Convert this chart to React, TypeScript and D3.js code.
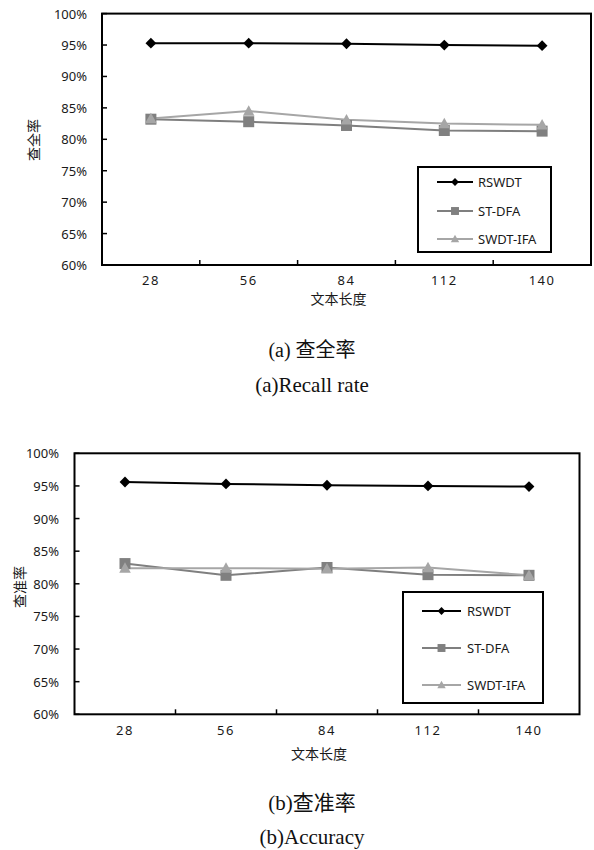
import React from "react";
import * as d3 from "d3";

const categories = ["28", "56", "84", "112", "140"];
const yTicks = [60, 65, 70, 75, 80, 85, 90, 95, 100];
const seriesNames = ["RSWDT", "ST-DFA", "SWDT-IFA"];

const recallRSWDT = [95.3, 95.3, 95.2, 95.0, 94.9];
const recallSTDFA = [83.2, 82.8, 82.2, 81.4, 81.3];
const recallSWDTIFA = [83.3, 84.5, 83.1, 82.5, 82.3];

const accRSWDT = [95.6, 95.3, 95.1, 95.0, 94.9];
const accSTDFA = [83.1, 81.3, 82.5, 81.4, 81.3];
const accSWDTIFA = [82.4, 82.4, 82.3, 82.5, 81.3];

const styles = [
  { stroke: "#000000", fill: "#000000", marker: "diamond" },
  { stroke: "#7f7f7f", fill: "#808080", marker: "square" },
  { stroke: "#a6a6a6", fill: "#a6a6a6", marker: "triangle" },
];

const sans = "'Noto Sans', 'Open Sans', sans-serif";
const cjk = "'Noto Sans CJK SC', sans-serif";
const serif = "'Liberation Serif', 'Noto Sans CJK SC', serif";

function Marker({ type, x, y, fill, k = 1 }: { type: string; x: number; y: number; fill: string; k?: number }) {
  if (type === "diamond") {
    const s = 5.4 * k;
    return <path d={`M${x},${y - s}L${x + s},${y}L${x},${y + s}L${x - s},${y}Z`} fill={fill} />;
  }
  if (type === "square") {
    const s = 5.5 * k;
    return <rect x={x - s} y={y - s} width={2 * s} height={2 * s} fill={fill} />;
  }
  const s = 5.8 * k;
  return <path d={`M${x},${y - s}L${x + s},${y + s * 0.8}L${x - s},${y + s * 0.8}Z`} fill={fill} />;
}

type ChartProps = {
  series: number[][];
  left: number;
  right: number;
  top: number;
  bottom: number;
  yLabelX: number;
  yTitle: string;
  yTitleX: number;
  yTitleY: number;
  xLabelY: number;
  xTitleY: number;
  legend: { x: number; y: number; w: number; h: number; rows: number[]; l1: number; l2: number; tx: number };
};

function Chart(p: ChartProps) {
  const x = d3.scaleBand<string>().domain(categories).range([p.left, p.right]).paddingInner(0).paddingOuter(0);
  const y = d3.scaleLinear().domain([60, 100]).range([p.bottom, p.top]);
  const cx = (c: string) => (x(c) as number) + x.bandwidth() / 2;
  const line = d3
    .line<number>()
    .x((_, i) => cx(categories[i]))
    .y((d) => y(d));
  const lg = p.legend;
  return (
    <g>
      {yTicks.map((t) => (
        <g key={t}>
          <line x1={p.left} x2={p.left + 5} y1={y(t)} y2={y(t)} stroke="#000" strokeWidth={1.5} />
          <text x={p.yLabelX} y={y(t)} textAnchor="end" dominantBaseline="central" fontFamily={sans} fontSize={13} fill="#1a1a1a">
            {t}%
          </text>
        </g>
      ))}
      {categories.slice(1).map((c) => (
        <line key={c} x1={x(c) as number} x2={x(c) as number} y1={p.bottom} y2={p.bottom - 5} stroke="#000" strokeWidth={1.5} />
      ))}
      {categories.map((c) => (
        <text key={c} x={cx(c)} y={p.xLabelY} textAnchor="middle" dominantBaseline="central" fontFamily={sans} fontSize={13} letterSpacing={1.5} fill="#1a1a1a">
          {c}
        </text>
      ))}
      <rect x={p.left} y={p.top} width={p.right - p.left} height={p.bottom - p.top} fill="none" stroke="#000" strokeWidth={2} />
      {p.series.map((s, i) => (
        <path key={"l" + i} d={line(s) || ""} fill="none" stroke={styles[i].stroke} strokeWidth={2} />
      ))}
      {p.series.map((s, i) =>
        s.map((v, j) => <Marker key={"m" + i + "-" + j} type={styles[i].marker} x={cx(categories[j])} y={y(v)} fill={styles[i].fill} />)
      )}
      <text x={(p.left + p.right) / 2 - 8} y={p.xTitleY} textAnchor="middle" dominantBaseline="central" fontFamily={cjk} fontSize={14} fill="#1a1a1a">
        文本长度
      </text>
      <text
        transform={`translate(${p.yTitleX},${p.yTitleY}) rotate(-90)`}
        textAnchor="middle"
        dominantBaseline="central"
        fontFamily={cjk}
        fontSize={14}
        fill="#1a1a1a"
      >
        {p.yTitle}
      </text>
      <rect x={lg.x} y={lg.y} width={lg.w} height={lg.h} fill="#fff" stroke="#000" strokeWidth={2} />
      {seriesNames.map((n, i) => {
        const ry = lg.y + lg.rows[i];
        return (
          <g key={n}>
            <line x1={lg.x + lg.l1} x2={lg.x + lg.l2} y1={ry} y2={ry} stroke={styles[i].stroke} strokeWidth={2} />
            <Marker type={styles[i].marker} x={lg.x + (lg.l1 + lg.l2) / 2} y={ry} fill={styles[i].fill} k={0.72} />
            <text x={lg.x + lg.tx} y={ry} dominantBaseline="central" fontFamily={sans} fontSize={13} fill="#1a1a1a">
              {n}
            </text>
          </g>
        );
      })}
    </g>
  );
}

export default function App() {
  return (
    <svg width={594} height={850} style={{ position: "absolute", left: 0, top: 0, background: "#fff" }}>
      <rect x={0} y={0} width={594} height={850} fill="#fff" />
      <Chart
        series={[recallRSWDT, recallSTDFA, recallSWDTIFA]}
        left={102}
        right={591}
        top={13.6}
        bottom={265}
        yLabelX={87}
        yTitle="查全率"
        yTitleX={33}
        yTitleY={140}
        xLabelY={280}
        xTitleY={298}
        legend={{ x: 418, y: 167, w: 133, h: 85, rows: [15, 44, 72], l1: 19, l2: 55, tx: 60 }}
      />
      <Chart
        series={[accRSWDT, accSTDFA, accSWDTIFA]}
        left={74.5}
        right={579.5}
        top={453.3}
        bottom={714.3}
        yLabelX={59}
        yTitle="查准率"
        yTitleX={19}
        yTitleY={587}
        xLabelY={730}
        xTitleY={753}
        legend={{ x: 403, y: 592, w: 140, h: 111, rows: [19, 56, 93], l1: 19, l2: 58, tx: 64 }}
      />
      <text x={312} y={350} textAnchor="middle" dominantBaseline="central" fontFamily={serif} fontSize={20} fill="#111">
        (a)  查全率
      </text>
      <text x={312} y={385} textAnchor="middle" dominantBaseline="central" fontFamily={serif} fontSize={21} fill="#111">
        (a)Recall rate
      </text>
      <text x={312} y={803} textAnchor="middle" dominantBaseline="central" fontFamily={serif} fontSize={21} fill="#111">
        (b)查准率
      </text>
      <text x={312} y={837} textAnchor="middle" dominantBaseline="central" fontFamily={serif} fontSize={21} fill="#111">
        (b)Accuracy
      </text>
    </svg>
  );
}
